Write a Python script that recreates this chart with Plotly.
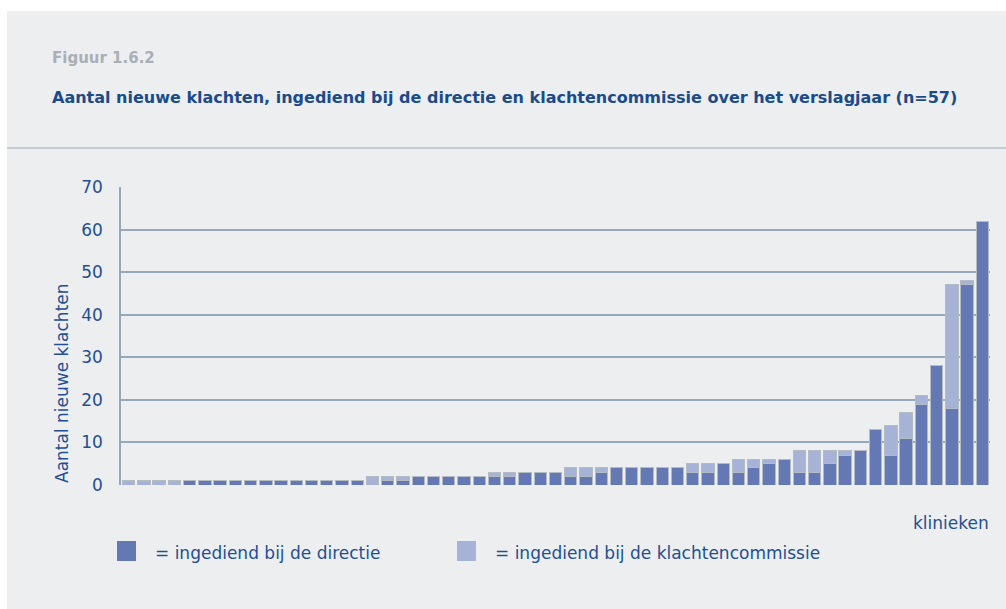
import plotly.graph_objects as go

klinieken = [f"K{i}" for i in range(1, 58)]
directie = [0, 0, 0, 0, 1, 1, 1, 1, 1, 1, 1, 1, 1, 1, 1, 1, 0, 1, 1,
            2, 2, 2, 2, 2, 2, 2, 3, 3, 3, 2, 2, 3, 4, 4, 4, 4, 4,
            3, 3, 5, 3, 4, 5, 6, 3, 3, 5, 7, 8, 13, 7, 11, 19, 28, 18, 47, 62]
commissie = [1, 1, 1, 1, 0, 0, 0, 0, 0, 0, 0, 0, 0, 0, 0, 0, 2, 1, 1,
             0, 0, 0, 0, 0, 1, 1, 0, 0, 0, 2, 2, 1, 0, 0, 0, 0, 0,
             2, 2, 0, 3, 2, 1, 0, 5, 5, 3, 1, 0, 0, 7, 6, 2, 0, 29, 1, 0]
y_ticks = [0, 10, 20, 30, 40, 50, 60, 70]

DARK = "#6479b3"
LIGHT = "#a7b3d6"
EDGE = "#b3bbc4"
BLUE = "#1f4f96"
GRID = "#95a7ba"
FONT = "DejaVu Sans, Verdana, sans-serif"

W, H = 1006, 609
L, R, T, B = 121, 16, 187, 124
pw, ph = W - L - R, H - T - B

def px(x):
    return (x - L) / pw

def py(y):
    return (H - B - y) / ph

fig = go.Figure()
fig.add_trace(go.Bar(x=klinieken, y=directie, name="directie",
                     marker=dict(color=DARK, line=dict(color=EDGE, width=1))))
fig.add_trace(go.Bar(x=klinieken, y=commissie, name="klachtencommissie",
                     marker=dict(color=LIGHT, line=dict(color=EDGE, width=1))))

shapes = [
    dict(type="rect", xref="paper", yref="paper", x0=px(7), x1=px(W + 2), y0=py(H + 2), y1=py(11),
         fillcolor="#eceef0", line=dict(width=0), layer="below"),
    dict(type="line", xref="paper", yref="paper", x0=px(7), x1=px(W + 2), y0=py(148), y1=py(148),
         line=dict(color="#c6ccd2", width=2), layer="below"),
    dict(type="rect", xref="paper", yref="paper", x0=px(117), x1=px(136), y0=py(561), y1=py(541),
         fillcolor=DARK, line=dict(width=0)),
    dict(type="rect", xref="paper", yref="paper", x0=px(457), x1=px(476), y0=py(561), y1=py(541),
         fillcolor=LIGHT, line=dict(width=0)),
]

annotations = [
    dict(text="<b>Figuur 1.6.2</b>", xref="paper", yref="paper", x=px(50), y=py(58),
         xanchor="left", yanchor="middle", showarrow=False,
         font=dict(family=FONT, size=15, color="#a9afb5")),
    dict(text="<b>Aantal nieuwe klachten, ingediend bij de directie en klachtencommissie over het verslagjaar (n=57)</b>",
         xref="paper", yref="paper", x=px(50), y=py(98), xanchor="left", yanchor="middle",
         showarrow=False, font=dict(family=FONT, size=16, color="#1a4b8c")),
    dict(text="Aantal nieuwe klachten", xref="paper", yref="paper", x=px(62), y=py(383),
         xanchor="center", yanchor="middle", textangle=-90, showarrow=False,
         font=dict(family=FONT, size=17, color=BLUE)),
    dict(text="klinieken", xref="paper", yref="paper", x=px(991), y=py(523),
         xanchor="right", yanchor="middle", showarrow=False,
         font=dict(family=FONT, size=17, color=BLUE)),
    dict(text="= ingediend bij de directie", xref="paper", yref="paper", x=px(153), y=py(553),
         xanchor="left", yanchor="middle", showarrow=False,
         font=dict(family=FONT, size=17, color=BLUE)),
    dict(text="= ingediend bij de klachtencommissie", xref="paper", yref="paper", x=px(493), y=py(553),
         xanchor="left", yanchor="middle", showarrow=False,
         font=dict(family=FONT, size=17, color=BLUE)),
]

fig.update_layout(
    width=W, height=H,
    margin=dict(l=L, r=R, t=T, b=B),
    barmode="stack", bargap=0.19,
    paper_bgcolor="white", plot_bgcolor="rgba(0,0,0,0)",
    showlegend=False,
    shapes=shapes, annotations=annotations,
    xaxis=dict(showticklabels=False, showgrid=False, ticks="", showline=False,
               zeroline=False),
    yaxis=dict(range=[0, 70], tickvals=y_ticks, showgrid=True, gridcolor=GRID, gridwidth=1.5,
               showline=True, linecolor=GRID, linewidth=1.5, zeroline=False,
               ticks="", ticklabelstandoff=13,
               tickfont=dict(family=FONT, size=17, color=BLUE)),
)

fig.write_html("out.html", config={"displayModeBar": False},
               post_script="document.body.style.margin='0';")
